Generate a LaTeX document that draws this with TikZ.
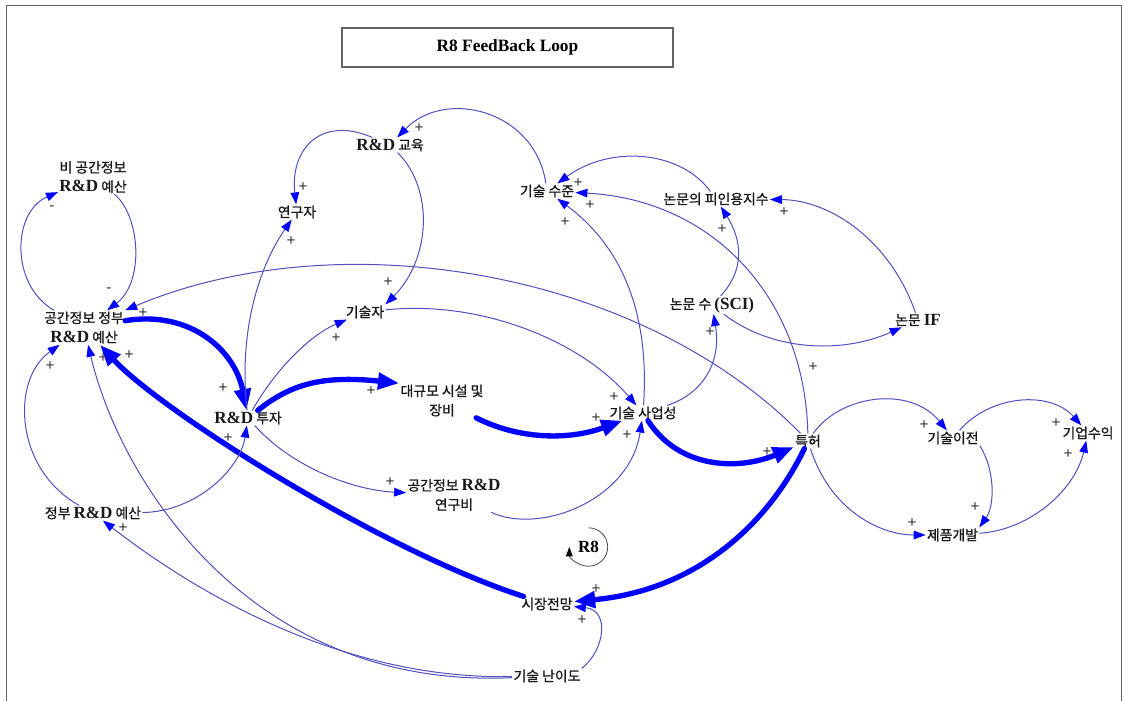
\documentclass[tikz,border=0pt]{standalone}
\usepackage{fontspec}
\setmainfont{Liberation Serif}
\newfontfamily\kr{Noto Sans CJK KR}[FakeBold=0.9]
\newfontfamily\tnr{Liberation Serif}
\newfontfamily\sgn{Liberation Sans}
\usetikzlibrary{arrows.meta}
\definecolor{linkc}{RGB}{80,80,190}
\definecolor{headc}{RGB}{0,0,255}
\definecolor{framec}{RGB}{100,100,100}
% bold serif pieces inside the Korean labels
\newcommand{\rdx}{{\tnr\bfseries\fontsize{12.8}{14}\selectfont R\&D}}
\newcommand{\bsci}[1]{{\tnr\bfseries\fontsize{12.8}{14}\selectfont #1}}
\tikzset{
  var/.style={font=\kr\fontsize{10.4}{14.5}\selectfont, inner sep=1pt, outer sep=0pt,
              align=center, text=black!90},
  link/.style={draw=linkc, line width=0.75pt,
               -{Triangle[length=9pt,width=6.5pt,color=headc]}},
  flow/.style={draw=headc, line width=4pt, line cap=round,
               -{Triangle[length=16pt,width=12pt]}},
  sign/.style={font=\sgn\fontsize{11.5}{11.5}\selectfont, inner sep=0pt, text=black!80},
}
\begin{document}
\begin{tikzpicture}[x=0.75pt,y=-0.75pt]
\useasboundingbox (0,0) rectangle (1124,701);
\fill[white] (0,0) rectangle (1124,701);
\draw[framec, line width=1.1pt] (6.5,701) -- (6.5,5.5) -- (1121.5,5.5) -- (1121.5,701);

% title
\node[draw=framec, line width=0.9pt, minimum width=248.25pt, minimum height=29.25pt,
      inner sep=0pt, font=\tnr\bfseries\fontsize{13}{15}\selectfont] (title) at (507.5,47.5) {R8 FeedBack Loop};

% variables
\node[var] (nbud) at (93,177) {비 공간정보\\\rdx{} 예산};
\node[var] (sgov) at (84,327.5) {공간정보 정부\\\rdx{} 예산};
\node[var] (res)  at (297,212) {연구자};
\node[var] (edu)  at (390,145) {\rdx{} 교육};
\node[var] (tech) at (365,312) {기술자};
\node[var] (lvl)  at (547,191) {기술 수준};
\node[var] (cite) at (716,199) {논문의 피인용지수};
\node[var] (sci)  at (712,305) {논문 수 \bsci{(SCI)}};
\node[var] (nif)  at (918,320) {논문 \bsci{IF}};
\node[var] (fac)  at (442,400.5) {대규모 시설 및\\장비};
\node[var] (biz)  at (643,413) {기술 사업성};
\node[var] (inv)  at (248,418) {\rdx{} 투자};
\node[var] (pat)  at (808,441) {특허};
\node[var] (trf)  at (953,438) {기술이전};
\node[var] (rev)  at (1088,433) {기업수익};
\node[var] (prod) at (952.5,535) {제품개발};
\node[var] (rdc)  at (454,495) {공간정보 \rdx\\연구비};
\node[var] (gbud) at (93,513) {정부 \rdx{} 예산};
\node[var] (mkt)  at (547,604) {시장전망};
\node[var] (dif)  at (547,676) {기술 난이도};

% loop marker
\node[font=\tnr\bfseries\fontsize{12.8}{14}\selectfont, inner sep=0pt] (r8) at (588.5,547) {R8};
\draw[draw=black!70, line width=0.6pt, -{Triangle[length=7pt,width=5pt,color=black]}]
  ([yshift=14.4pt]r8.center) arc[start angle=90, end angle=-180, radius=14.4pt];

% causal links
\draw[link] (sgov) .. controls (10,285) and (12,212) .. (nbud);
\draw[link] (nbud) .. controls (140,215) and (145,282) .. (sgov);
\draw[flow] (sgov) .. controls (190,310) and (235,350) .. (inv);
\draw[flow] (mkt) .. controls (380,550) and (160,410) .. (sgov);
\draw[link] (dif) .. controls (250,690) and (120,480) .. (sgov);
\draw[link] (dif) .. controls (330,680) and (180,580) .. (gbud);
\draw[link] (gbud) .. controls (15,470) and (10,380) .. (sgov);
\draw[link] (gbud) .. controls (195,512) and (240,470) .. (inv);
\draw[link] (inv) .. controls (238,330) and (260,265) .. (res);
\draw[link] (edu) .. controls (320,115) and (290,150) .. (res);
\draw[link] (inv) .. controls (275,370) and (310,335) .. (tech);
\draw[link] (lvl) .. controls (535,110) and (445,88) .. (edu);
\draw[link] (edu) .. controls (435,190) and (430,260) .. (tech.north east);
\draw[flow] (inv) .. controls (290,385) and (320,375) .. (fac.north west);
\draw[flow] (fac) .. controls (520,440) and (570,440) .. (biz);
\draw[link] (tech) .. controls (480,300) and (580,340) .. (biz);
\draw[link] (rdc) .. controls (540,535) and (630,500) .. (biz);
\draw[link] (inv) .. controls (290,465) and (350,490) .. (rdc);
\draw[link] (biz) .. controls (650,310) and (620,245) .. (lvl);
\draw[link] (biz) .. controls (700,395) and (722,365) .. (sci);
\draw[link] (sci) .. controls (745,270) and (742,240) .. (cite);
\draw[link] (cite) .. controls (680,150) and (610,145) .. (lvl);
\draw[link] (pat) .. controls (805,300) and (715,200) .. (lvl);
\draw[link] (nif) .. controls (890,240) and (830,200) .. (cite);
\draw[link] (sci) .. controls (770,350) and (840,355) .. (nif);
\draw[link] (pat) .. controls (640,270) and (340,220) .. (sgov);
\draw[flow] (biz) .. controls (680,470) and (740,470) .. (pat);
\draw[flow] (pat) .. controls (770,520) and (700,590) .. (mkt);
\draw[link] (dif.north east) .. controls (605,650) and (610,610) .. (mkt);
\draw[link] (pat) .. controls (840,395) and (910,385) .. (trf);
\draw[link] (pat) .. controls (830,510) and (880,535) .. (prod);
\draw[link] (trf.south east) .. controls (995,470) and (995,505) .. (prod.north east);
\draw[link] (trf) .. controls (990,395) and (1050,390) .. (rev);
\draw[link] (prod) .. controls (1030,530) and (1075,490) .. (rev);

% link polarities
\foreach \px/\py/\pol [count=\i] in {
  52/208/-, 109/290/-, 143/313/+, 103/358/+, 129/355/+, 50/366/+,
  303/187/+, 291/241/+, 419/128/+, 388/282/+, 336/338/+,
  578/183/+, 590/205/+, 565/222/+, 784/212/+, 722/229/+, 710/332/+,
  371/391/+, 614/397/+, 596/418/+, 627/435/+, 390/482/+,
  223/388/+, 228/438/+, 123/528/+, 767/452/+, 924/425/+,
  1056/423/+, 1068/454/+, 975/507/+, 912/523/+, 596/589/+,
  582/620/+, 813/367/+}
  \node[sign] (pol\i) at (\px,\py) {\pol};
\end{tikzpicture}
\end{document}
